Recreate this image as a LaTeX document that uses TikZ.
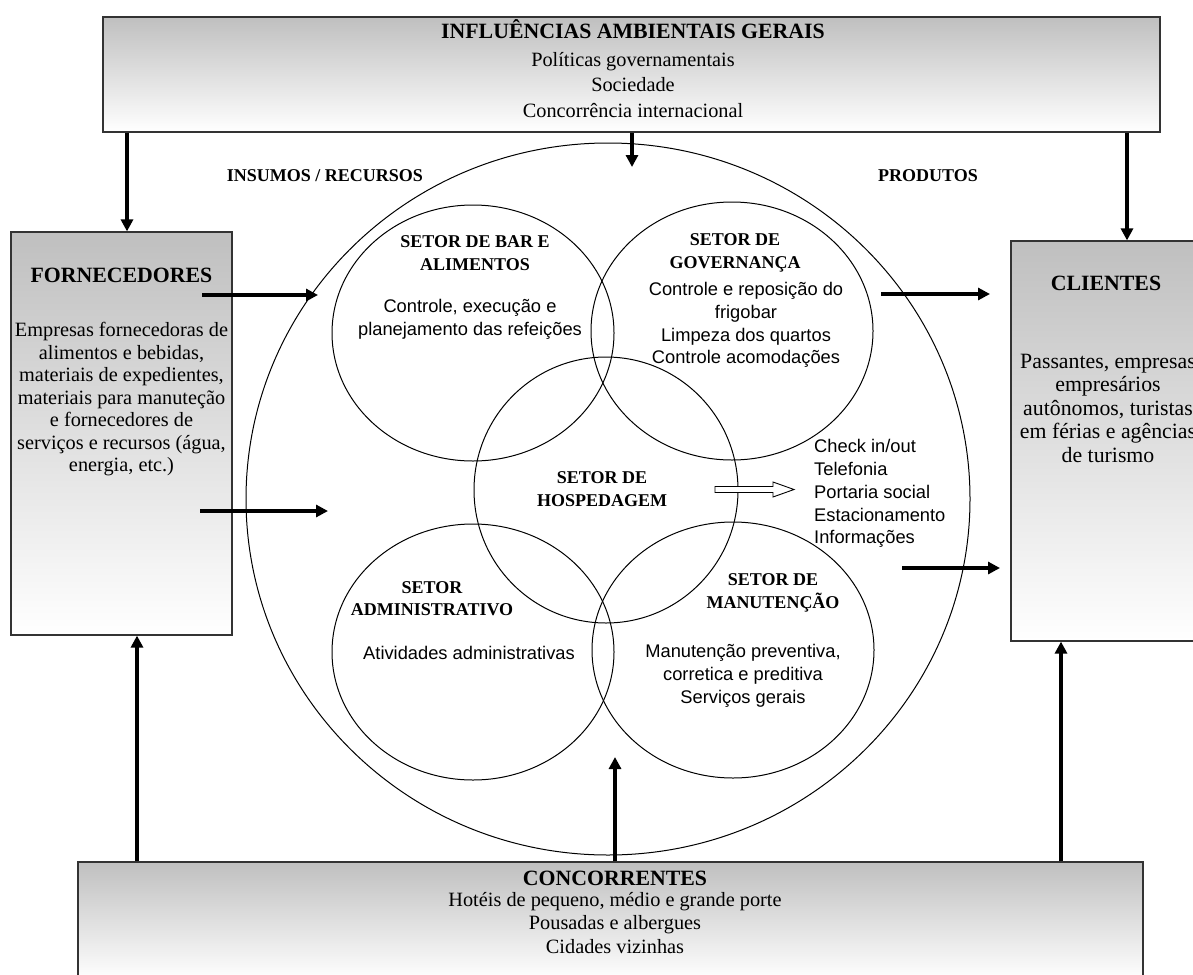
\documentclass[tikz,border=0pt]{standalone}
\usepackage{fontspec}
\setmainfont{Liberation Serif}
\setsansfont{Liberation Sans}
\usetikzlibrary{shapes.geometric,arrows.meta}
\begin{document}
\begin{tikzpicture}[x=1pt,y=-1pt,
  panel/.style={draw=black!80, line width=1.2pt, top color=black!25, bottom color=white, inner sep=0pt},
  sector/.style={ellipse, draw, line width=1pt, inner sep=0pt},
  flowarrow/.style={line width=3.3pt, -{Triangle[length=12pt,width=12pt]}},
  hollowarrow/.style={draw, line width=0.9pt, fill=white, line join=miter},
  ttl/.style={font=\fontsize{21.8}{25}\selectfont\bfseries, inner sep=0pt, anchor=base},
  bodytxt/.style={font=\fontsize{20.3}{23}\selectfont, align=center, inner sep=0pt},
  setor/.style={font=\fontsize{18}{22.5}\selectfont\bfseries, align=center, inner sep=0pt},
  sanstxt/.style={font=\sffamily\fontsize{18.3}{22.7}\selectfont, align=center, inner sep=0pt},
]
\useasboundingbox (0,0) rectangle (1193,974);
\clip (0,0) rectangle (1193,974);

% environment boxes
\node[panel, minimum width=1057pt, minimum height=115pt] (influ) at (631.5,74.5) {};
\node[panel, minimum width=221pt, minimum height=403pt] (forn) at (121.5,433.5) {};
\node[panel, minimum width=194pt, minimum height=400pt] (cli) at (1108,441) {};
\node[panel, minimum width=1065pt, minimum height=118pt] (conc) at (610.5,921) {};

% hotel system and its sectors
\node[sector, minimum width=724pt, minimum height=712pt] (sys) at (608,499) {};
\node[sector, minimum width=282pt, minimum height=256pt] (bar) at (473,333) {};
\node[sector, minimum width=282pt, minimum height=258pt] (gov) at (732,331) {};
\node[sector, minimum width=264pt, minimum height=266pt] (hosp) at (606,490) {};
\node[sector, minimum width=282pt, minimum height=256pt] (adm) at (473,652) {};
\node[sector, minimum width=282pt, minimum height=256pt] (man) at (733,650) {};

% connector end points
\coordinate (fornIn) at ([xshift=5.5pt]forn.north);
\coordinate (sysIn) at (632,167);
\coordinate (cliIn) at ([xshift=19pt]cli.north);
\coordinate (fornBot) at ([xshift=15.5pt]forn.south);
\coordinate (sysBot) at (615,757);
\coordinate (cliBot) at ([xshift=-47pt]cli.south);
\coordinate (fOut1) at (202,295);
\coordinate (fTip1) at (318,295);
\coordinate (fOut2) at (200,511);
\coordinate (fTip2) at (328,511);
\coordinate (gOut) at (881,294);
\coordinate (gTip) at (990,294);
\coordinate (sOut) at (902,568);
\coordinate (sTip) at (1000,568);
\coordinate (flowTail) at (715,489.5);

% influences from above
\draw[flowarrow] (influ.south -| fornIn) -- (fornIn);
\draw[flowarrow] (influ.south -| sysIn) -- (sysIn);
\draw[flowarrow] (influ.south -| cliIn) -- (cliIn);
% competitors from below
\draw[flowarrow] (conc.north -| fornBot) -- (fornBot);
\draw[flowarrow] (conc.north -| sysBot) -- (sysBot);
\draw[flowarrow] (conc.north -| cliBot) -- (cliBot);
% inputs and outputs
\draw[flowarrow] (fOut1) -- (fTip1);
\draw[flowarrow] (fOut2) -- (fTip2);
\draw[flowarrow] (gOut) -- (gTip);
\draw[flowarrow] (sOut) -- (sTip);

% front desk services: hollow block arrow
\draw[hollowarrow] (flowTail) ++(0,-3) -- ++(58,0) -- ++(0,-4.5) -- ++(21,7.5)
  -- ++(-21,7.5) -- ++(0,-4.5) -- ++(-58,0) -- cycle;

% texts
\node[ttl, anchor=base] (influT) at (633,39) {INFLUÊNCIAS AMBIENTAIS GERAIS};
\node[bodytxt, font=\fontsize{20.3}{25.5}\selectfont] (influB) at (633,84.7)
  {Políticas governamentais\\Sociedade\\Concorrência internacional};

\node[setor, anchor=base] (insumos) at (325,181) {INSUMOS / RECURSOS};
\node[setor, anchor=base] (produtos) at (928,181) {PRODUTOS};

\node[ttl] (fornT) at (121.5,282) {FORNECEDORES};
\node[bodytxt, font=\fontsize{20.3}{22.5}\selectfont] (fornB) at (121.5,399.4)
  {Empresas fornecedoras de\\alimentos e bebidas,\\materiais de expedientes,\\materiais para manuteção\\e fornecedores de\\serviços e recursos (água,\\energia, etc.)};

\node[ttl] (cliT) at (1106,290) {CLIENTES};
\node[bodytxt, font=\fontsize{21.8}{23.5}\selectfont] (cliB) at (1108,408)
  {Passantes, empresas\\empresários\\autônomos, turistas\\em férias e agências\\de turismo};

\node[ttl] (concT) at (615,885) {CONCORRENTES};
\node[bodytxt, font=\fontsize{20.3}{23.5}\selectfont] (concB) at (615,923)
  {Hotéis de pequeno, médio e grande porte\\Pousadas e albergues\\Cidades vizinhas};

\node[setor] (barT) at (475,253) {SETOR DE BAR E\\ALIMENTOS};
\node[sanstxt] (barB) at (470,319) {Controle, execução e\\planejamento das refeições};

\node[setor] (govT) at (735,253) {SETOR DE\\GOVERNANÇA};
\node[sanstxt] (govB) at (746,325)
  {Controle e reposição do\\frigobar\\Limpeza dos quartos\\Controle acomodações};

\node[setor] (hospT) at (602,489) {SETOR DE\\HOSPEDAGEM};

\node[setor] (admT) at (432,598.5) {SETOR\\ADMINISTRATIVO};
\node[sanstxt, anchor=base] (admB) at (469,659.5) {Atividades administrativas};

\node[setor] (manT) at (773,593) {SETOR DE\\MANUTENÇÃO};
\node[sanstxt] (manB) at (743,675.7)
  {Manutenção preventiva,\\corretica e preditiva\\Serviços gerais};

\node[sanstxt, align=left, anchor=west] (servs) at (814,493.7)
  {Check in/out\\Telefonia\\Portaria social\\Estacionamento\\Informações};
\end{tikzpicture}
\end{document}
